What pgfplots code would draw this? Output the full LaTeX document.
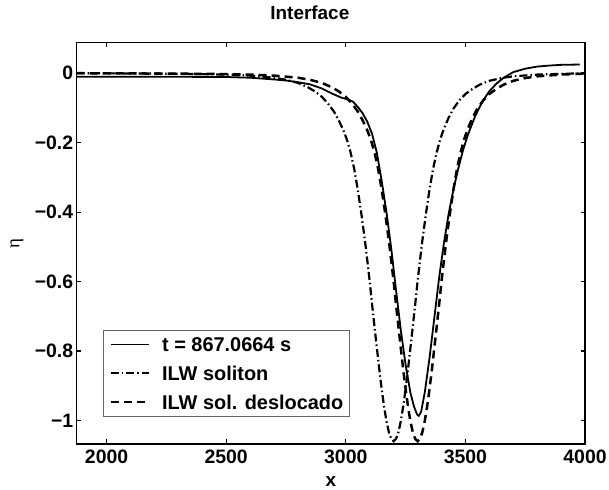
\documentclass[border=0pt]{standalone}
\usepackage{pgfplots}
\pgfplotsset{compat=1.18}
\usepackage{fontspec}
\setmainfont{Liberation Sans}
\newfontfamily\greekfont{Liberation Serif}
\pgfplotstableread{
x y
1875 -0.010
2200 -0.010
2500 -0.011
2600 -0.013
2700 -0.018
2750 -0.021
2800 -0.026
2850 -0.032
2900 -0.044
2940 -0.058
2980 -0.070
3010 -0.076
3030 -0.082
3050 -0.097
3070 -0.115
3090 -0.140
3110 -0.175
3130 -0.230
3150 -0.310
3170 -0.400
3190 -0.505
3210 -0.625
3230 -0.740
3250 -0.840
3270 -0.920
3285 -0.960
3298 -0.983
3305 -0.987
3315 -0.975
3330 -0.920
3350 -0.820
3370 -0.705
3390 -0.590
3410 -0.490
3430 -0.405
3450 -0.335
3470 -0.275
3490 -0.222
3510 -0.178
3540 -0.125
3570 -0.083
3600 -0.052
3630 -0.030
3660 -0.013
3700 0.003
3750 0.013
3800 0.019
3850 0.022
3900 0.024
3978 0.025
}\solid
\pgfplotstableread{
x y
1875 0.000
2200 -0.001
2350 -0.002
2500 -0.004
2600 -0.007
2700 -0.013
2750 -0.019
2800 -0.028
2840 -0.040
2870 -0.052
2900 -0.068
2925 -0.087
2950 -0.110
2970 -0.135
2990 -0.165
3005 -0.192
3020 -0.228
3035 -0.275
3050 -0.335
3065 -0.405
3080 -0.482
3090 -0.540
3100 -0.600
3110 -0.667
3120 -0.730
3130 -0.792
3140 -0.853
3150 -0.910
3160 -0.960
3170 -1.002
3180 -1.034
3190 -1.053
3200 -1.060
3210 -1.053
3220 -1.034
3230 -1.002
3240 -0.960
3250 -0.910
3260 -0.853
3270 -0.792
3280 -0.730
3290 -0.667
3300 -0.600
3310 -0.540
3320 -0.482
3335 -0.405
3350 -0.335
3365 -0.275
3380 -0.228
3395 -0.190
3410 -0.160
3430 -0.128
3450 -0.102
3475 -0.078
3500 -0.060
3530 -0.045
3560 -0.033
3600 -0.022
3650 -0.014
3700 -0.009
3800 -0.004
3900 -0.002
4000 0.000
}\ilw
\pgfplotstableread{
x y
1875 0.000
2200 -0.001
2450 -0.002
2600 -0.004
2700 -0.007
2800 -0.013
2850 -0.019
2900 -0.028
2940 -0.040
2970 -0.052
3000 -0.068
3025 -0.087
3050 -0.110
3070 -0.135
3090 -0.165
3105 -0.192
3120 -0.228
3135 -0.275
3150 -0.335
3165 -0.405
3180 -0.482
3190 -0.540
3200 -0.600
3210 -0.667
3220 -0.730
3230 -0.792
3240 -0.853
3250 -0.910
3260 -0.960
3270 -1.002
3280 -1.034
3290 -1.053
3300 -1.060
3310 -1.053
3320 -1.034
3330 -1.002
3340 -0.960
3350 -0.910
3360 -0.853
3370 -0.792
3380 -0.730
3390 -0.667
3400 -0.600
3410 -0.540
3420 -0.482
3435 -0.405
3450 -0.335
3465 -0.275
3480 -0.228
3495 -0.190
3510 -0.160
3530 -0.128
3550 -0.102
3575 -0.078
3600 -0.060
3630 -0.045
3660 -0.033
3700 -0.022
3750 -0.014
3800 -0.009
3900 -0.004
4000 -0.001
}\shifted
\begin{document}
\begin{tikzpicture}
\useasboundingbox (0,0) rectangle (609bp,490bp);
\begin{axis}[
  at={(76.7bp,46bp)}, anchor=south west,
  scale only axis, width=508.3bp, height=401.7bp,
  xmin=1875, xmax=4000, ymin=-1.068, ymax=0.089,
  xtick={2000,2500,3000,3500,4000},
  xticklabels={2000,2500,3000,3500,4000},
  ytick={-1,-0.8,-0.6,-0.4,-0.2,0},
  yticklabels={−1,−0.8,−0.6,−0.4,−0.2,0},
  tick align=inside, major tick length=4.5bp,
  every tick/.style={line width=1.1bp, black},
  axis line style={line width=1.4bp},
  ticklabel style={font=\fontsize{19.5}{19.5}\selectfont\bfseries},
  xticklabel style={yshift=-2.5bp},
  title={Interface},
  title style={font=\fontsize{19}{19}\selectfont\bfseries, at={(axis description cs:0.5,1)}, anchor=base, yshift=16.5bp, xshift=-21bp},
  xlabel={x},
  xlabel style={font=\fontsize{19}{19}\selectfont\bfseries, at={(axis description cs:0.5,-0.107)}, anchor=base},
  ylabel={\greekfont η},
  ylabel style={font=\fontsize{19}{19}\selectfont, at={(axis description cs:-0.1175,0.5)}, anchor=center},
  legend cell align=left,
  legend style={at={(axis description cs:0.0512,0.068)}, anchor=south west,
    draw=black!60, line width=0.8bp,
    font=\fontsize{20}{20}\selectfont\bfseries,
    inner xsep=6.5bp, inner ysep=7bp,
    nodes={inner xsep=0bp, inner ysep=0bp, text height=14.3bp, text depth=0bp},
    column sep=12bp, row sep=14.5bp},
  legend image code/.code={\draw[#1] (0bp,0bp) -- (38bp,0bp);},
]
\addplot[black, line width=1.8bp, solid] table[x=x,y=y] {\solid};
\addlegendentry{t = 867.0664 s}
\addplot[black, line width=2.2bp, dash pattern=on 8bp off 3bp on 1.5bp off 3bp] table[x=x,y=y] {\ilw};
\addlegendentry{ILW soliton}
\addplot[black, line width=2.5bp, dash pattern=on 8bp off 5bp] table[x=x,y=y] {\shifted};
\addlegendentry{ILW sol. deslocado}
\end{axis}
\end{tikzpicture}
\end{document}
